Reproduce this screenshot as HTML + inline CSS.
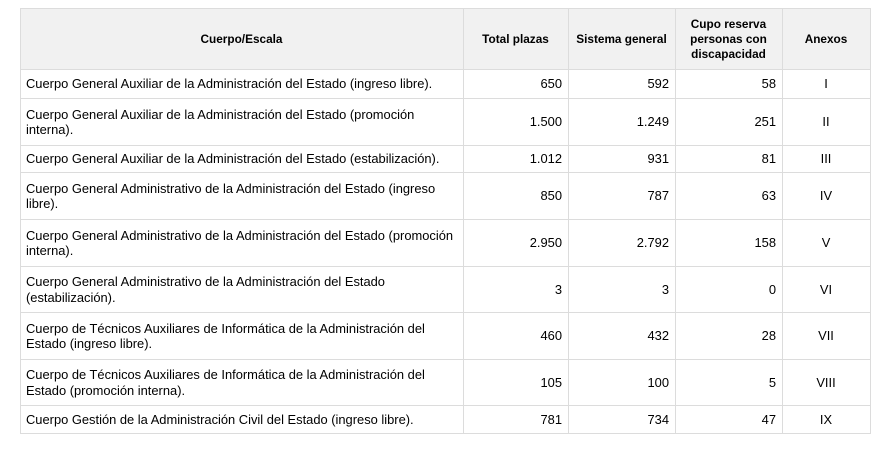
<!DOCTYPE html>
<html><head><meta charset="utf-8"><style>
body{margin:0;width:881px;height:450px;background:#fff;font-family:"Liberation Sans",Arial,sans-serif;color:#000;position:relative;overflow:hidden}
.c{position:absolute;box-sizing:border-box;border:1px solid #dcdcdc;display:flex;align-items:center;font-size:12.9px;line-height:15.5px;padding:0 6px 0 5px}
.h{background:#f1f1f1;font-weight:bold;font-size:11.8px;justify-content:center;text-align:center;line-height:15px}
.r{justify-content:flex-end}
.m{justify-content:center}
</style></head><body>
<div id="t"></div>
<script>
const cols=[20,463,568,675,782,870];
const rows=[8,69,98,145,172,219,266,312,359,405,433];
const hdr=["Cuerpo/Escala","Total plazas","Sistema general","Cupo reserva<br>personas con<br>discapacidad","Anexos"];
const data=[
["Cuerpo General Auxiliar de la Administración del Estado (ingreso libre).","650","592","58","I"],
["Cuerpo General Auxiliar de la Administración del Estado (promoción<br>interna).","1.500","1.249","251","II"],
["Cuerpo General Auxiliar de la Administración del Estado (estabilización).","1.012","931","81","III"],
["Cuerpo General Administrativo de la Administración del Estado (ingreso<br>libre).","850","787","63","IV"],
["Cuerpo General Administrativo de la Administración del Estado (promoción<br>interna).","2.950","2.792","158","V"],
["Cuerpo General Administrativo de la Administración del Estado<br>(estabilización).","3","3","0","VI"],
["Cuerpo de Técnicos Auxiliares de Informática de la Administración del<br>Estado (ingreso libre).","460","432","28","VII"],
["Cuerpo de Técnicos Auxiliares de Informática de la Administración del<br>Estado (promoción interna).","105","100","5","VIII"],
["Cuerpo Gestión de la Administración Civil del Estado (ingreso libre).","781","734","47","IX"]];
let h="";
function cell(ci,ri,txt,cls){h+=`<div class="c ${cls}" style="left:${cols[ci]}px;top:${rows[ri]}px;width:${cols[ci+1]-cols[ci]+1}px;height:${rows[ri+1]-rows[ri]+1}px">${txt}</div>`;}
hdr.forEach((t,i)=>cell(i,0,t,"h"));
data.forEach((r,ri)=>r.forEach((t,ci)=>cell(ci,ri+1,t,ci==0?"":ci==4?"m":"r")));
document.getElementById("t").innerHTML=h;
</script>
</body></html>
